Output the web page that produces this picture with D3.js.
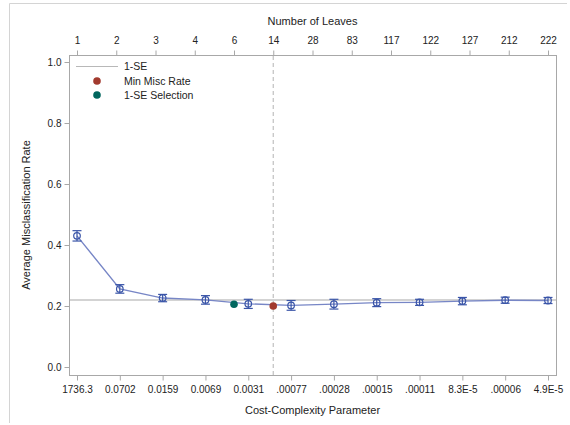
<!DOCTYPE html>
<html>
<head>
<meta charset="utf-8">
<script src="https://cdn.jsdelivr.net/npm/d3@7"></script>
<style>
  html, body { margin: 0; padding: 0; background: #fff; }
  svg { display: block; font-family: "Liberation Sans", Arial, sans-serif; }
  .tick text { fill: #222; }
</style>
</head>
<body>
<svg id="chart" width="570" height="425"></svg>
<script>
// Cost-complexity pruning: cross-validated misclassification by complexity parameter
const cpLabels = ["1736.3", "0.0702", "0.0159", "0.0069", "0.0031", ".00077",
                  ".00028", ".00015", ".00011", "8.3E-5", ".00006", "4.9E-5"];
const avgRate = [0.430, 0.256, 0.226, 0.220, 0.207, 0.202,
                 0.206, 0.211, 0.212, 0.216, 0.219, 0.218];
const stdErr  = [0.017, 0.014, 0.012, 0.014, 0.015, 0.016,
                 0.016, 0.013, 0.010, 0.012, 0.010, 0.010];
const leafLabels = ["1", "2", "3", "4", "6", "14", "28", "83", "117", "122", "127", "212", "222"];
const yTicks = [0.0, 0.2, 0.4, 0.6, 0.8, 1.0];
const oneSE = 0.2197;
const minMisc = { leaves: "14", rate: 0.200 };
const seSelection = { leaves: "6", rate: 0.2055 };

const svg = d3.select("#chart");
const frame = { left: 69, right: 556, top: 55, bottom: 375 };
const axisColor = "#a8a8a8";
const blue = "#3a55a8";
const lineBlue = "#7786c6";

// outer border
svg.append("path")
  .attr("d", "M9.5,423 V3.5 H567")
  .attr("fill", "none").attr("stroke", "#d4d4d4");

const x = d3.scalePoint().domain(cpLabels).range([77, 548]);
const xTop = d3.scalePoint().domain(leafLabels).range([77, 548]);
const y = d3.scaleLinear().domain([0, 1]).range([367, 62]);

// plot frame
svg.append("rect")
  .attr("x", frame.left + 0.5).attr("y", frame.top + 0.5)
  .attr("width", frame.right - frame.left).attr("height", frame.bottom - frame.top)
  .attr("fill", "none").attr("stroke", axisColor);

function styleAxis(g) {
  g.select(".domain").remove();
  g.selectAll(".tick line").attr("stroke", axisColor);
  g.selectAll(".tick text").attr("font-size", 10).attr("fill", "#222");
}

svg.append("g")
  .attr("transform", `translate(0,${frame.bottom + 0.5})`)
  .call(d3.axisBottom(x).tickSize(5).tickPadding(5))
  .call(styleAxis);

svg.append("g")
  .attr("transform", `translate(0,${frame.top + 0.5})`)
  .call(d3.axisTop(xTop).tickSize(5).tickPadding(7))
  .call(styleAxis);

svg.append("g")
  .attr("transform", `translate(${frame.left + 0.5},0)`)
  .call(d3.axisLeft(y).tickValues(yTicks).tickFormat(d3.format(".1f")).tickSize(5).tickPadding(3))
  .call(styleAxis);

// axis titles
svg.append("text").attr("x", (frame.left + frame.right) / 2).attr("y", 414)
  .attr("text-anchor", "middle").attr("font-size", 11).attr("fill", "#222")
  .text("Cost-Complexity Parameter");
svg.append("text").attr("x", (frame.left + frame.right) / 2).attr("y", 25)
  .attr("text-anchor", "middle").attr("font-size", 11).attr("fill", "#222")
  .text("Number of Leaves");
svg.append("text")
  .attr("transform", `translate(30,${(frame.top + frame.bottom) / 2}) rotate(-90)`)
  .attr("text-anchor", "middle").attr("font-size", 11).attr("fill", "#222")
  .text("Average Misclassification Rate");

// 1-SE reference line
svg.append("line")
  .attr("x1", frame.left + 1).attr("x2", frame.right)
  .attr("y1", y(oneSE)).attr("y2", y(oneSE))
  .attr("stroke", "#c4c4c4").attr("stroke-width", 1.5);

// selected tree size marker line
svg.append("line")
  .attr("x1", xTop(minMisc.leaves)).attr("x2", xTop(minMisc.leaves))
  .attr("y1", frame.top + 1).attr("y2", frame.bottom)
  .attr("stroke", "#c0c0c0").attr("stroke-width", 1.2)
  .attr("stroke-dasharray", "4,3");

const pts = cpLabels.map((c, i) => ({ c, v: avgRate[i], se: stdErr[i] }));

// connecting line
svg.append("path")
  .datum(pts)
  .attr("fill", "none").attr("stroke", lineBlue).attr("stroke-width", 1.4)
  .attr("d", d3.line().x(d => x(d.c)).y(d => y(d.v)));

// error bars
const eb = svg.append("g").attr("stroke", blue).attr("stroke-width", 1.2).attr("fill", "none");
pts.forEach(d => {
  const cx = x(d.c), y0 = y(d.v - d.se), y1 = y(d.v + d.se);
  eb.append("line").attr("x1", cx).attr("x2", cx).attr("y1", y0).attr("y2", y1);
  eb.append("line").attr("x1", cx - 4.5).attr("x2", cx + 4.5).attr("y1", y0).attr("y2", y0);
  eb.append("line").attr("x1", cx - 4.5).attr("x2", cx + 4.5).attr("y1", y1).attr("y2", y1);
});

// open circle markers
svg.append("g").selectAll("circle").data(pts).join("circle")
  .attr("cx", d => x(d.c)).attr("cy", d => y(d.v)).attr("r", 3.3)
  .attr("fill", "none").attr("stroke", blue).attr("stroke-width", 1.2);

// min misclassification and 1-SE selection points
svg.append("circle").attr("cx", xTop(seSelection.leaves)).attr("cy", y(seSelection.rate))
  .attr("r", 3.8).attr("fill", "#01665e");
svg.append("circle").attr("cx", xTop(minMisc.leaves)).attr("cy", y(minMisc.rate))
  .attr("r", 3.8).attr("fill", "#a23a2e");

// legend
const lg = svg.append("g").attr("font-size", 10.5).attr("fill", "#222");
lg.append("line").attr("x1", 76).attr("x2", 118).attr("y1", 66.5).attr("y2", 66.5)
  .attr("stroke", "#b8b8b8").attr("stroke-width", 1.2);
lg.append("text").attr("x", 124).attr("y", 70).text("1-SE");
lg.append("circle").attr("cx", 97).attr("cy", 81).attr("r", 3.8).attr("fill", "#a23a2e");
lg.append("text").attr("x", 124).attr("y", 85).text("Min Misc Rate");
lg.append("circle").attr("cx", 97).attr("cy", 95).attr("r", 3.8).attr("fill", "#01665e");
lg.append("text").attr("x", 124).attr("y", 99).text("1-SE Selection");
</script>
</body>
</html>
